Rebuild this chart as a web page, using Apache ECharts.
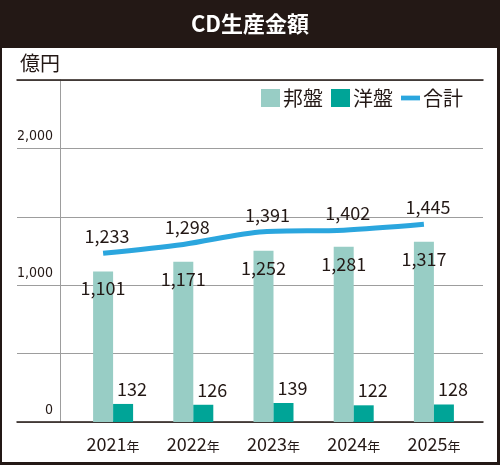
<!DOCTYPE html>
<html>
<head>
<meta charset="utf-8">
<script src="https://cdn.jsdelivr.net/npm/echarts@6/dist/echarts.min.js"></script>
<style>
  html, body { margin: 0; padding: 0; }
  body { width: 500px; height: 465px; background: #231815; position: relative; overflow: hidden; }
  #panel { position: absolute; left: 2px; top: 48px; width: 495px; height: 414px; background: #fff; }
  #main { position: absolute; left: 0; top: 0; width: 500px; height: 465px; }
</style>
</head>
<body>
<div id="panel"></div>
<div id="main"></div>
<script>
// データ
const years = ['2021', '2022', '2023', '2024', '2025'];
const hoban = [1101, 1171, 1252, 1281, 1317];   // 邦盤
const yoban = [132, 126, 139, 122, 128];        // 洋盤
const total = [1233, 1298, 1391, 1402, 1445];   // 合計
const yTicks = [0, 1000, 2000];

const textColor = '#231815';
const font = '"Noto Sans CJK JP", "Noto Sans", sans-serif';

function fmt(v) {
    return v.toLocaleString('en-US');
}

const chart = echarts.init(document.getElementById('main'));

const option = {
    animation: false,
    backgroundColor: 'transparent',
    textStyle: { fontFamily: font, color: textColor },
    title: [
        {
            text: 'CD生産金額',
            left: 'center',
            top: 8,
            textStyle: { color: '#fff', fontSize: 22, fontWeight: 'bold', fontFamily: font }
        },
        {
            text: '億円',
            left: 15,
            top: 48,
            textStyle: { color: textColor, fontSize: 20, fontWeight: 'normal', fontFamily: font }
        }
    ],
    legend: {
        right: 32,
        top: 83,
        itemWidth: 19,
        itemHeight: 18,
        itemGap: 8,
        textStyle: { fontSize: 20, color: textColor, fontFamily: font, padding: [0, 0, 0, -2] },
        data: [
            { name: '邦盤', icon: 'rect' },
            { name: '洋盤', icon: 'rect' },
            { name: '合計', icon: 'path://M0,0H20V5H0Z' }
        ]
    },
    grid: [
        // 背景の罫線
        { left: 17, right: 17, top: 80, bottom: 43 },
        // 縦軸
        { left: 60, right: 17, top: 80, bottom: 43 },
        // 棒グラフ
        { left: 73, right: 26, top: 80, bottom: 43 },
        // 折れ線
        { left: 63, right: 36, top: 80, bottom: 43 }
    ],
    xAxis: [
        { gridIndex: 0, type: 'value', min: 0, max: 1, position: 'bottom',
          axisLine: { show: true, lineStyle: { color: '#231815', width: 1.5 } },
          axisTick: { show: false }, axisLabel: { show: false }, splitLine: { show: false } },
        { gridIndex: 0, type: 'value', min: 0, max: 1, position: 'top',
          axisLine: { show: true, lineStyle: { color: '#231815', width: 1.5 } },
          axisTick: { show: false }, axisLabel: { show: false }, splitLine: { show: false } },
        { gridIndex: 1, type: 'value', min: 0, max: 1, show: false },
        { gridIndex: 2, type: 'category', data: years,
          axisLine: { show: false }, axisTick: { show: false },
          axisLabel: {
              interval: 0,
              margin: 13,
              formatter: function (v) { return '{y|' + v + '}{n|年}'; },
              rich: {
                  y: { fontSize: 18, color: textColor, fontFamily: font },
                  n: { fontSize: 13, color: textColor, fontFamily: font, padding: [4, 0, 0, 0] }
              }
          } },
        { gridIndex: 3, type: 'category', data: years, show: false }
    ],
    yAxis: [
        { gridIndex: 0, type: 'value', min: 0, max: 2500, interval: 500,
          axisLine: { show: false }, axisTick: { show: false }, axisLabel: { show: false },
          splitLine: { show: true, lineStyle: { color: '#9d9d9d', width: 1 } } },
        { gridIndex: 1, type: 'value', min: 0, max: 2500, interval: 500,
          axisLine: { show: true, lineStyle: { color: '#9d9d9d', width: 1 } },
          axisTick: { show: false }, splitLine: { show: false },
          axisLabel: {
              margin: 7,
              verticalAlign: 'bottom',
              padding: [0, 0, 5, 0],
              fontFamily: '"DejaVu Sans Condensed", sans-serif',
              fontSize: 14,
              color: textColor,
              formatter: function (v) { return yTicks.indexOf(v) >= 0 ? fmt(v) : ''; }
          } },
        { gridIndex: 2, type: 'value', min: 0, max: 2500, show: false },
        { gridIndex: 3, type: 'value', min: 0, max: 2500, show: false }
    ],
    series: [
        {
            name: '邦盤',
            type: 'bar',
            xAxisIndex: 3,
            yAxisIndex: 2,
            data: hoban,
            barWidth: 20,
            barGap: '0%',
            itemStyle: { color: '#98cdc5' },
            label: {
                show: true,
                position: 'insideTop',
                distance: 8,
                fontSize: 18,
                color: textColor,
                fontFamily: font,
                formatter: function (p) { return fmt(p.value); }
            },
            z: 3
        },
        {
            name: '洋盤',
            type: 'bar',
            xAxisIndex: 3,
            yAxisIndex: 2,
            data: yoban,
            barWidth: 20,
            barGap: '0%',
            itemStyle: { color: '#00a497' },
            label: {
                show: true,
                position: 'top',
                distance: 6,
                offset: [9, 0],
                fontSize: 18,
                color: textColor,
                fontFamily: font,
                formatter: function (p) { return fmt(p.value); }
            },
            z: 3
        },
        {
            name: '合計',
            type: 'line',
            xAxisIndex: 4,
            yAxisIndex: 3,
            data: total,
            symbol: 'circle',
            symbolSize: 0.1,
            showSymbol: true,
            smooth: 0.3,
            lineStyle: { color: '#2ba6de', width: 5 },
            itemStyle: { color: '#2ba6de' },
            label: {
                show: true,
                position: 'top',
                distance: 8,
                offset: [4, 0],
                fontSize: 18,
                color: textColor,
                fontFamily: font,
                formatter: function (p) { return fmt(p.value); }
            },
            z: 4
        }
    ]
};

chart.setOption(option);
</script>
</body>
</html>
